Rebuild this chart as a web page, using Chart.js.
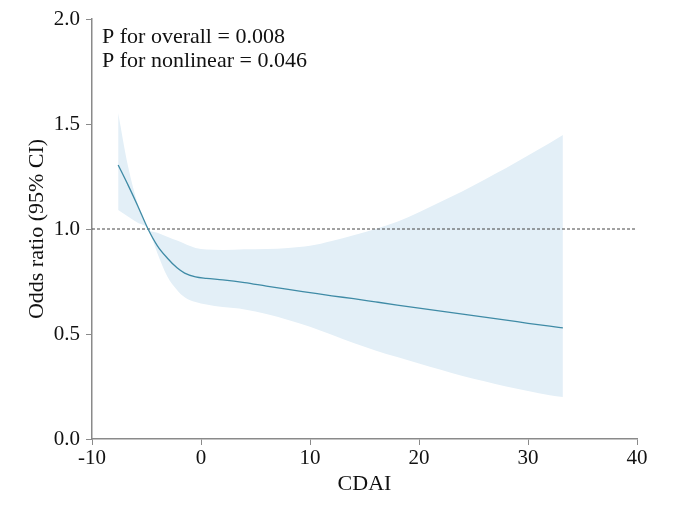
<!DOCTYPE html>
<html>
	<head>
		<style>
			body {
				margin: 0;
				background: #fff;
			}
		</style>
		<title>CDAI odds ratio</title>
	</head>
	<body>
		<canvas id="canvas1" width="689" height="507"></canvas>
		<script src="https://cdn.jsdelivr.net/npm/chart.js@4/dist/chart.umd.min.js"></script>
		<script>
			// values
			var cdai = [-7.6, -6.7, -5.8, -4.86, -4, -3.1, -2.2, -1.5, -0.5, 0.5, 2, 4, 6, 8, 10, 12, 14, 16, 18, 20, 22, 24, 26, 28, 30, 32, 33.2];
			var orFit = [1.305, 1.21, 1.11, 1.0, 0.92, 0.862, 0.815, 0.79, 0.772, 0.765, 0.758, 0.745, 0.728, 0.712, 0.697, 0.682, 0.668, 0.653, 0.638, 0.623, 0.609, 0.595, 0.58, 0.566, 0.551, 0.537, 0.529];
			var orUpper = [1.552, 1.30, 1.12, 1.0, 0.982, 0.963, 0.945, 0.93, 0.91, 0.902, 0.9, 0.903, 0.905, 0.91, 0.92, 0.943, 0.97, 1.0, 1.035, 1.08, 1.13, 1.18, 1.235, 1.29, 1.35, 1.41, 1.448];
			var orLower = [1.09, 1.06, 1.03, 1.0, 0.885, 0.775, 0.71, 0.675, 0.652, 0.64, 0.628, 0.617, 0.595, 0.567, 0.535, 0.496, 0.457, 0.422, 0.39, 0.36, 0.33, 0.30, 0.275, 0.25, 0.228, 0.208, 0.20];
			var refX = [-10, 40];
			var refY = [1, 1];
			var pNotes = ['P for overall = 0.008', 'P for nonlinear = 0.046'];

			function pts(xs, ys) {
				return xs.map(function (x, i) { return {x: x, y: ys[i]}; });
			}

			var serif = '"Liberation Serif", "Times New Roman", serif';
			var axisGrey = '#8a8a8a';

			var notePlugin = {
				id: 'pnotes',
				afterDraw: function (chart) {
					var ctx = chart.ctx;
					ctx.save();
					ctx.font = '22px ' + serif;
					ctx.fillStyle = '#111';
					ctx.textBaseline = 'alphabetic';
					for (var i = 0; i < pNotes.length; i++) {
						ctx.fillText(pNotes[i], chart.chartArea.left + 10, chart.chartArea.top + 24 + i * 24);
					}
					ctx.restore();
				}
			};

			var ctx1 = document.getElementById("canvas1").getContext("2d");
			var chart1 = new Chart(ctx1, {
				type: "line",
				data: {
					datasets: [
						{
							label: "OR",
							data: pts(cdai, orFit),
							borderColor: "#3f8ba6",
							borderWidth: 1.3,
							pointRadius: 0,
							cubicInterpolationMode: "monotone",
							fill: false
						},
						{
							label: "reference",
							data: pts(refX, refY),
							borderColor: "#444",
							borderWidth: 1,
							borderDash: [3, 2],
							pointRadius: 0,
							fill: false
						},
						{
							label: "upper",
							data: pts(cdai, orUpper),
							borderWidth: 0,
							borderColor: "rgba(0,0,0,0)",
							backgroundColor: "#e3eff7",
							pointRadius: 0,
							cubicInterpolationMode: "monotone",
							fill: "+1"
						},
						{
							label: "lower",
							data: pts(cdai, orLower),
							borderWidth: 0,
							borderColor: "rgba(0,0,0,0)",
							pointRadius: 0,
							cubicInterpolationMode: "monotone",
							fill: false
						}
					]
				},
				options: {
					responsive: false,
					animation: false,
					layout: {
						padding: {left: 20, right: 52, top: 19, bottom: 10}
					},
					plugins: {
						legend: {display: false},
						tooltip: {enabled: false}
					},
					scales: {
						x: {
							type: "linear",
							min: -10,
							max: 40,
							afterFit: function (s) { s.height = 58; },
							ticks: {
								stepSize: 10,
								color: "#111",
								padding: 1,
								maxRotation: 0,
								font: {family: serif, size: 21}
							},
							grid: {drawOnChartArea: false, color: axisGrey, tickLength: 6},
							border: {color: axisGrey, width: 1.5},
							title: {
								display: true,
								text: "CDAI",
								color: "#111",
								padding: {top: 0, bottom: 0},
								font: {family: serif, size: 22}
							}
						},
						y: {
							min: 0,
							max: 2,
							afterFit: function (s) { s.width = 72; },
							ticks: {
								stepSize: 0.5,
								color: "#111",
								padding: 6,
								font: {family: serif, size: 21},
								callback: function (v) { return Number(v).toFixed(1); }
							},
							grid: {drawOnChartArea: false, color: axisGrey, tickLength: 6},
							border: {color: axisGrey, width: 1.5},
							title: {
								display: true,
								text: "Odds ratio (95% CI)",
								color: "#111",
								padding: {top: 4, bottom: 0},
								font: {family: serif, size: 22}
							}
						}
					}
				},
				plugins: [notePlugin]
			});
		</script>
	</body>
</html>
